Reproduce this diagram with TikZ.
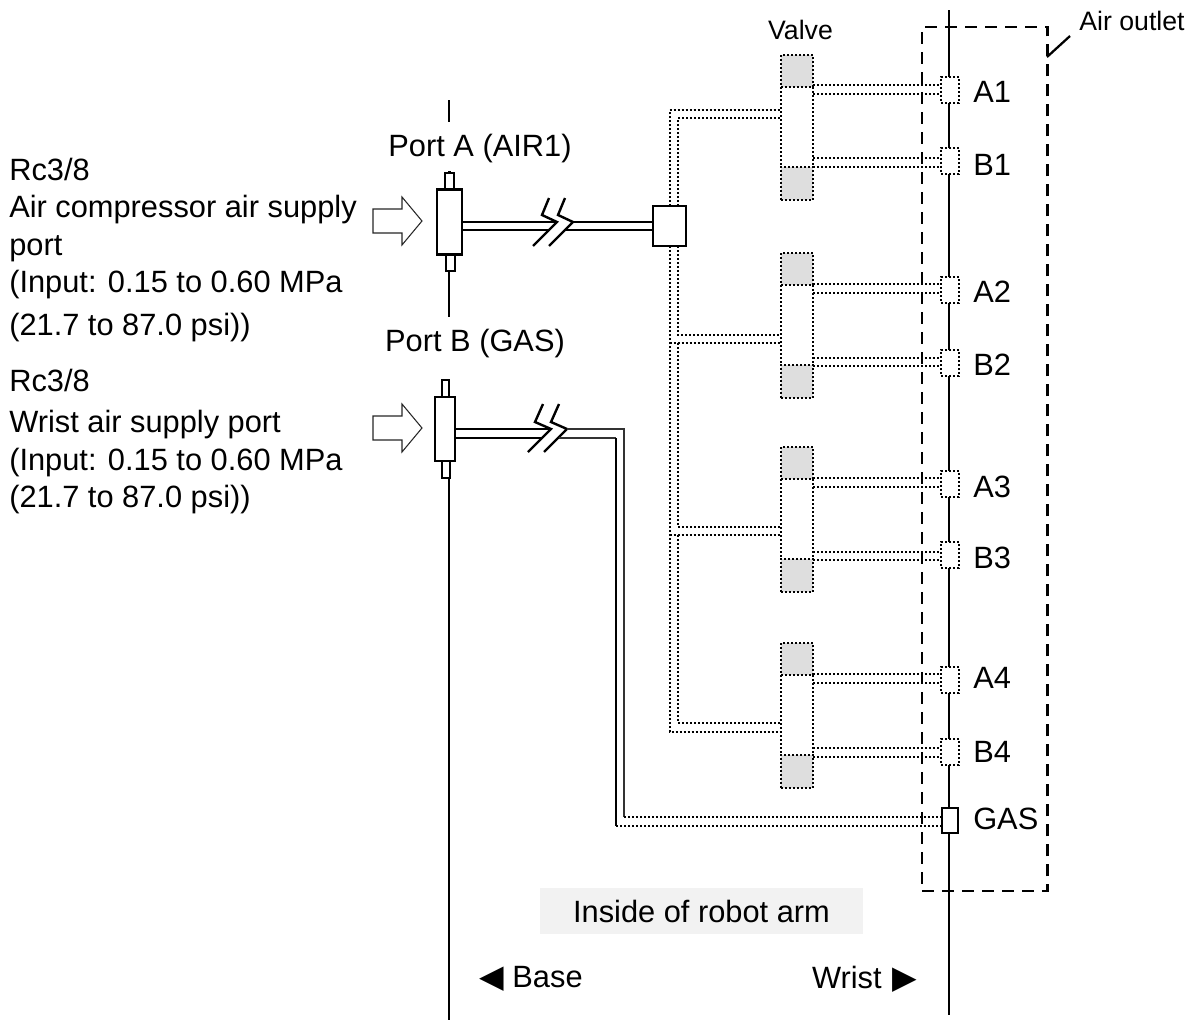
\documentclass[tikz,border=0pt]{standalone}
\usepackage{fontspec}
\setmainfont{Liberation Sans}
\newfontfamily\symfont{DejaVu Sans}
\usetikzlibrary{positioning}
\definecolor{ValveGray}{RGB}{222,222,222}
\definecolor{PanelGray}{RGB}{242,242,242}
\definecolor{PipeGray}{RGB}{50,50,50}
\newcommand{\lbl}{\fontsize{23.1}{28}\selectfont}
\newcommand{\lblsmall}{\fontsize{20}{24}\selectfont}
\newcommand{\tri}{\symfont\fontsize{24}{24}\selectfont}

\begin{document}
\begin{tikzpicture}[x=0.75pt, y=-0.75pt, font=\lbl,
    box/.style={draw=black, line width=1.8pt, fill=white, inner sep=0pt, outer sep=0pt},
    dotbox/.style={draw=black, line width=1.5pt, dash pattern=on 1.5pt off 1.5pt, inner sep=0pt, outer sep=0pt, minimum width=24pt},
    portbox/.style={dotbox, fill=white, minimum width=13.5pt, minimum height=19.5pt},
    airdot/.style={draw=black, line width=1.5pt, dash pattern=on 1.5pt off 1.5pt},
    pipe/.style={draw=black, line width=1.8pt},
    thinpipe/.style={draw=PipeGray, line width=1.3pt},
    axis/.style={draw=black, line width=1.7pt},
    inlet/.style={draw=black!85, line width=0.8pt, fill=white},
    txt/.style={inner sep=0pt, align=left}
  ]
  \useasboundingbox (0,0) rectangle (1195,1021);

  \coordinate (wristtop) at (949,10);
  \coordinate (wristbot) at (949,1015);
  \coordinate (tickA) at (449,100);
  \draw[axis] (wristtop) -- (wristbot);
  \draw[axis] (tickA) -- ++(0,22);

  \node[draw=black, line width=2pt, dash pattern=on 9pt off 6pt, inner sep=0pt, minimum width=94pt, minimum height=648pt] (outlet) at (984.5,459) {};
  \node[fill=PanelGray, txt, minimum width=242.25pt, minimum height=34.5pt, align=center] (inside) at (701.5,911) {Inside of robot arm};

  % ports on the base side
  \node[box, minimum width=6.75pt, minimum height=12pt] (stemAt) at (449.5,181) {};
  \node[box, minimum width=6.75pt, minimum height=12.75pt] (stemAb) at (450.5,262.5) {};
  \node[box, minimum width=18.75pt, minimum height=48.75pt] (portA) at (449.5,222) {};
  \node[box, minimum width=5.25pt, minimum height=12.75pt] (stemBt) at (445.5,388.5) {};
  \node[box, minimum width=6pt, minimum height=12.75pt] (stemBb) at (446,469.5) {};
  \node[box, minimum width=15pt, minimum height=48pt] (portB) at (445,429) {};
  \node[box, minimum width=24.75pt, minimum height=30pt] (manifold) at (669.5,226) {};
  \node[box, minimum width=12pt, minimum height=18.75pt] (gasport) at (950,820.5) {};
  \draw[axis] ([xshift=-1.1pt]stemAb.south) -- ++(0,46);
  \draw[axis] (stemAt.north) -- ++(0,-2);
  \draw[axis] ([xshift=-0.75pt]stemBb.south east) -- ++(0,542);

  % valves and air outlets
  \foreach \n/\vy/\pa/\pb/\la/\lb/\ta/\tb in {1/55/89.5/160.5/85/158/92/165, 2/253/290/363/284/357.5/292/365, 3/447/483.5/555/478/551.5/487/558, 4/643/680/751.5/674/748/678/752} {
    \node[dotbox, fill=ValveGray, minimum height=24pt] (valveT\n) at (797,\vy+16) {};
    \node[dotbox, fill=ValveGray, minimum height=24.75pt] (valveB\n) at (797,\vy+128) {};
    \draw[airdot] (valveT\n.south west) -- (valveB\n.north west);
    \draw[airdot] (valveT\n.south east) -- (valveB\n.north east);
    \node[portbox] (outA\n) at (950,\pa) {};
    \node[portbox] (outB\n) at (950,\pb) {};
    \node[txt, anchor=west] (lblA\n) at (973,\ta) {A\n};
    \node[txt, anchor=west] (lblB\n) at (973,\tb) {B\n};
    \coordinate (lnA\n) at (813,\la);
    \coordinate (lnC\n) at (813,\la+8.5);
    \coordinate (lnB\n) at (813,\lb);
    \coordinate (lnD\n) at (813,\lb+8.5);
    \draw[airdot] (lnA\n) -- (lnA\n -| outA\n.west);
    \draw[airdot] (lnC\n) -- (lnC\n -| outA\n.west);
    \draw[airdot] (lnB\n) -- (lnB\n -| outB\n.west);
    \draw[airdot] (lnD\n) -- (lnD\n -| outB\n.west);
  }

  % manifold to valves
  \coordinate (inner) at (678,226);
  \coordinate (in1o) at (781,110);
  \coordinate (in1i) at (781,118);
  \coordinate (in2i) at (781,335);
  \coordinate (in2o) at (781,343);
  \coordinate (in3i) at (781,527);
  \coordinate (in3o) at (781,535);
  \coordinate (in4i) at (781,723);
  \coordinate (in4o) at (781,732);
  \draw[airdot] (manifold.north) |- (in1o);
  \draw[airdot] (manifold.north -| inner) |- (in1i);
  \draw[airdot] (manifold.south -| inner) |- (in2i);
  \draw[airdot] (manifold.south) |- (in4o);
  \draw[airdot] (in2o -| manifold.south) -- (in2o);
  \draw[airdot] (in2o -| inner) |- (in3i);
  \draw[airdot] (in3o -| manifold.south) -- (in3o);
  \draw[airdot] (in3o -| inner) |- (in4i);

  % port A pipe with break
  \coordinate (brkA) at (557,222);
  \coordinate (brkAl) at (548,230);
  \coordinate (brkAr) at (573,222);
  \coordinate (brkAq) at (564,230);
  \draw[pipe] (portA.east) -- (brkA);
  \draw[pipe] ([yshift=-6pt]portA.east) -- (brkAl);
  \draw[pipe] (brkAr) -- (brkAr -| manifold.west);
  \draw[pipe] (brkAq) -- (brkAq -| manifold.west);
  \draw[pipe] (brkA) ++(-8,-24) -- ++(-7,17) -- ++(15,7) -- ++(-24,24);
  \draw[pipe] (brkAr) ++(-8,-24) -- ++(-7,17) -- ++(15,7) -- ++(-24,24);

  % port B pipe with break
  \coordinate (brkB) at (551,429);
  \coordinate (brkBl) at (543,438);
  \coordinate (brkBr) at (567,429);
  \coordinate (brkBq) at (559,438);
  \coordinate (gasI) at (624,817);
  \coordinate (gasO) at (616,826);
  \draw[pipe] (portB.east) -- (brkB);
  \draw[pipe] ([yshift=-6.75pt]portB.east) -- (brkBl);
  \draw[pipe] (brkB) ++(-8,-25) -- ++(-8,18) -- ++(16,7) -- ++(-23,23);
  \draw[pipe] (brkBr) ++(-8,-25) -- ++(-8,18) -- ++(16,7) -- ++(-23,23);
  \draw[thinpipe] (brkBr) -| (gasI);
  \draw[thinpipe] (brkBq) -- (brkBq -| gasO);
  \draw[pipe] (brkBq -| gasO) -- (gasO);
  \draw[airdot] (gasI) -- (gasI -| gasport.west);
  \draw[airdot] (gasO) -- (gasO -| gasport.west);

  % inlet arrows
  \draw[inlet] (373,209) -- (402,209) -- (402,197) -- (422,221) -- (402,245) -- (402,233) -- (373,233) -- cycle;
  \draw[inlet] (373,416) -- (402,416) -- (402,404) -- (422,428) -- (402,452) -- (402,440) -- (373,440) -- cycle;

  % labels
  \node[txt, anchor=north west] (infoA) at (9,158) {Rc3/8\\Air compressor air supply\\port\\(Input: 0.15 to 0.60 MPa\\[4.5pt](21.7 to 87.0 psi))};
  \node[txt, anchor=north west] (infoB) at (9,369) {Rc3/8\\[3pt]Wrist air supply port\\(Input: 0.15 to 0.60 MPa\\(21.7 to 87.0 psi))};
  \node[txt, anchor=center] (lblportA) at (480,149) {Port A (AIR1)};
  \node[txt, anchor=center] (lblportB) at (475,344) {Port B (GAS)};
  \node[txt, anchor=center, font=\lblsmall] (lblvalve) at (800.5,30) {Valve};
  \node[txt, anchor=center, font=\lblsmall] (airout) at (1132,21) {Air outlet};
  \node[txt, anchor=west] (lblgas) at (973,819) {GAS};
  \node[txt, anchor=west] (lblbase) at (479,979) {{\tri ◀} Base};
  \node[txt, anchor=east] (lblwrist) at (917,979) {Wrist\hspace{1.5pt} {\tri ▶}};

  \coordinate (outletTap) at (1047,57);
  \coordinate (outletEnd) at (1070,36);
  \draw[axis] (outletTap) -- (outletEnd);
\end{tikzpicture}
\end{document}
